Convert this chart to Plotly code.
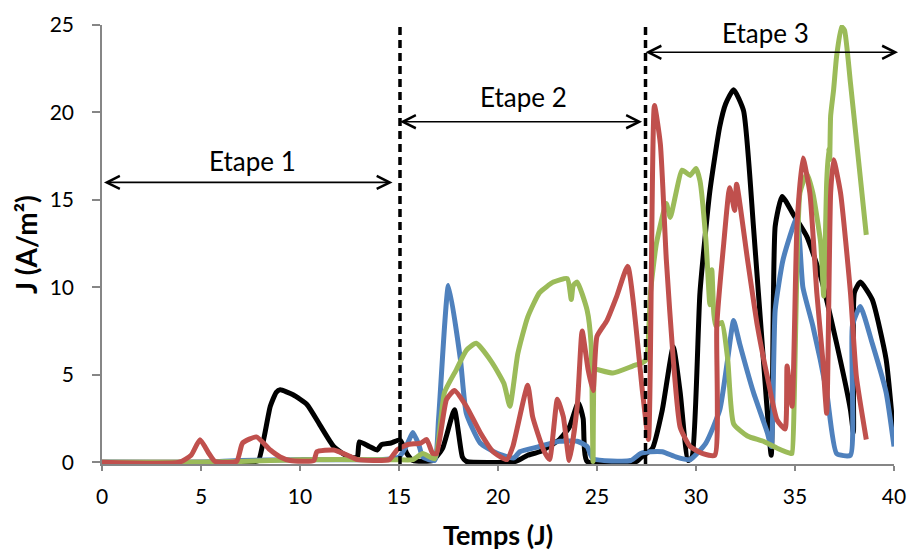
import plotly.graph_objects as go

# ---- data ----
black_x = [0, 2, 4, 6, 7.5, 7.9, 8.2, 8.5, 8.8, 9.0, 9.65, 10.35, 11.0, 11.7, 12.3, 12.7, 12.9, 13.0, 13.5, 13.9, 14.1, 14.6, 15.05,
           15.4, 15.7, 16.7, 17.2, 17.8, 18.2, 18.4, 20.9, 21.5, 22.1, 23.1, 23.6, 24.05, 24.3, 24.5, 27.0, 27.2, 27.8, 28.3,
           28.85, 29.2, 29.6, 29.8, 30.2, 30.7, 31.2, 31.5, 31.9, 32.4, 32.9, 33.4, 33.8, 34.0, 34.35, 34.9, 35.6, 36.3, 37.1,
           37.8, 37.95, 38.0, 38.3, 38.9, 39.6, 40.0]
black_y = [0, 0, 0, 0, 0, 0.1, 1.5, 3.2, 4.0, 4.14, 3.86, 3.3, 2.14, 0.9, 0.4, 0.26, 0.3, 1.17, 0.9, 0.7, 1.0, 1.1, 1.28,
           0.5, 0.1, 0.1, 0.8, 3.0, 0.3, 0.05, 0.05, 0.4, 0.6, 1.3, 2.0, 3.4, 2.5, 0.05, 0.05, 0.25, 0.8, 3.0,
           6.6, 4.0, 0.1, 0.3, 9.7, 15.5, 19.2, 20.5, 21.3, 20.1, 13.5, 5.9, 0.4, 13.5, 15.2, 14.2, 12.9, 10.6, 6.8,
           3.0, 1.7, 9.7, 10.3, 9.3, 5.9, 1.3]

blue_x = [0, 5, 7, 10, 14, 15.0, 15.4, 15.7, 16.0, 16.2, 16.8, 17.0, 17.5, 18.1, 18.4, 19.1, 19.9, 20.8, 21.1, 22.1, 23.1,
          24.0, 24.5, 24.8, 26.7, 27.2, 27.7, 28.3, 29.0, 29.7, 30.5, 31.2, 31.6, 31.9, 32.2, 32.9, 33.6, 33.8, 34.0,
          34.4, 35.1, 35.4, 35.9, 36.6, 37.1, 37.8, 37.9, 38.3, 38.9, 39.6, 40.0]
blue_y = [0, 0, 0.1, 0.15, 0.15, 0.3, 1.0, 1.7, 1.0, 0.3, 0.1, 2.5, 10.1, 5.9, 2.8, 1.1, 0.54, 0.25, 0.6, 0.9, 1.2,
          1.2, 0.9, 0.2, 0.1, 0.5, 0.6, 0.6, 0.3, 0.15, 1.1, 3.0, 5.9, 8.1, 6.8, 4.0, 1.7, 0.9, 8.7,
          11.6, 14.0, 10.0, 7.8, 4.0, 0.5, 0.4, 7.8, 8.9, 6.8, 4.0, 0.9]

green_x = [0, 5, 7, 10, 14, 14.9, 15.7, 16.2, 16.8, 17.3, 17.9, 18.4, 18.9, 19.7, 20.3, 20.6, 21.0, 21.5, 22.1, 22.8,
           23.5, 23.7, 23.8, 24.0, 24.5, 24.7, 24.8, 24.9, 25.0, 25.8, 26.8, 27.3, 27.5, 27.7, 28.0, 28.5, 28.7, 29.3,
           29.7, 30.0, 30.2, 30.5, 30.7, 30.8, 30.9, 31.0, 31.3, 31.6, 31.9, 32.6, 33.4, 34.1, 34.8, 34.85, 35.25,
           35.6, 35.9, 36.3, 36.45, 36.6, 36.7, 36.75, 36.8, 36.95, 37.1, 37.35, 37.5, 37.8, 38.15, 38.6]
green_y = [0, 0, 0.05, 0.15, 0.15, 0.15, 0.15, 0.5, 0.2, 4.0, 5.3, 6.4, 6.8, 5.7, 4.5, 3.2, 6.2, 8.3, 9.7, 10.3,
           10.5, 9.3, 10.1, 10.3, 8.7, 6.8, 0.05, 5.3, 5.3, 5.1, 5.5, 5.7, 5.9, 9.7, 12.5, 14.8, 14.0, 16.7,
           16.4, 16.8, 16.1, 12.7, 9.0, 11.0, 8.5, 7.8, 8.0, 5.9, 2.2, 1.5, 1.2, 0.8, 0.5, 0.5, 15.4,
           16.5, 15.4, 12.5, 9.5, 16.0, 18.0, 17.3, 19.8, 21.3, 23.2, 24.9, 24.7, 21.7, 17.9, 13.0]

red_x = [0, 3.9, 4.5, 4.95, 5.4, 5.7, 6.8, 7.1, 7.8, 8.5, 9.0, 9.5, 10.7, 10.85, 11.7, 12.4, 12.9, 14.5, 14.9, 15.4, 16.1,
         16.4, 16.7, 16.9, 17.4, 17.8, 18.4, 19.1, 19.75, 20.45, 20.75, 21.5, 21.75, 22.3, 22.6, 23.0, 23.3, 23.6, 24.0,
         24.25, 24.55, 24.8, 25.0, 25.5, 26.0, 26.55, 27.3, 27.6, 27.9, 28.2, 28.5, 28.85, 29.2, 29.7, 30.35, 30.95,
         31.05, 31.4, 31.7, 31.95, 32.05, 32.6, 33.1, 33.6, 34.1, 34.5, 34.6, 34.85, 35.1, 35.4, 35.75, 36.1, 36.4,
         36.6, 36.8, 36.95, 37.3, 37.8, 38.1, 38.6]
red_y = [0, 0, 0.4, 1.29, 0.5, 0.05, 0.05, 1.1, 1.45, 0.7, 0.3, 0.1, 0.1, 0.6, 0.7, 0.4, 0.15, 0.15, 0.7, 1.0, 1.1,
         1.3, 0.5, 0.5, 3.6, 4.1, 3.2, 1.7, 0.6, 0.15, 0.9, 4.4, 2.6, 0.7, 0.15, 3.6, 2.6, 0.1, 3.2,
         7.5, 5.3, 4.1, 7.2, 8.1, 9.5, 11.2, 4.0, 1.3, 20.4, 18.2, 11.6, 5.9, 2.0, 0.9, 0.5, 0.4,
         7.8, 12.5, 15.7, 14.4, 15.9, 11.6, 7.8, 4.9, 2.4, 1.9, 5.5, 3.2, 13.5, 17.4, 15.4, 9.7, 5.9,
         2.8, 15.4, 17.3, 15.4, 9.7, 4.9, 1.3]

stage_bounds = [15.05, 27.45]
stage_labels = ["Etape 1", "Etape 2", "Etape 3"]
x_ticks = [0, 5, 10, 15, 20, 25, 30, 35, 40]
y_ticks = [0, 5, 10, 15, 20, 25]

FONT = "Lato"

fig = go.Figure()
series = [(black_x, black_y, "#000000"), (blue_x, blue_y, "#4F81BD"),
          (green_x, green_y, "#9BBB59"), (red_x, red_y, "#C0504D")]
for xs, ys, col in series:
    fig.add_trace(go.Scatter(x=xs, y=ys, mode="lines",
                             line=dict(color=col, width=5, shape="spline", smoothing=0.5),
                             showlegend=False, hoverinfo="skip"))

# dashed stage separators
for b in stage_bounds:
    fig.add_shape(type="line", xref="x", yref="paper", x0=b, x1=b, y0=0, y1=1.007,
                  line=dict(color="black", width=3.5, dash="8px,5px"))

arrow_common = dict(text="", showarrow=True, arrowside="end+start", arrowhead=5, startarrowhead=5,
                    arrowsize=1.6, startarrowsize=1.6, arrowwidth=1.6, arrowcolor="black",
                    standoff=0, startstandoff=0)
# Etape 1 arrow
fig.add_annotation(x=0.1, y=16.0, ax=14.75, ay=16.0, axref="x", ayref="y", xref="x", yref="y", **arrow_common)
# Etape 2 arrow
fig.add_annotation(x=stage_bounds[0], y=19.47, ax=27.35, ay=19.47, axref="x", ayref="y", xref="x", yref="y", **arrow_common)
# Etape 3 arrow (extends beyond the axis end)
fig.add_annotation(x=stage_bounds[1], y=23.44, ax=254, ay=0, axref="pixel", ayref="pixel", xref="x", yref="y", **arrow_common)

label_pos = [(7.58, 17.34), (21.29, 21.0), (33.5, 24.66)]
for (lx, ly), t in zip(label_pos, stage_labels):
    fig.add_annotation(x=lx, y=ly, text=t, showarrow=False, xref="x", yref="y",
                       font=dict(family=FONT, size=26, color="black"), yanchor="middle", yshift=-2)

# axis titles
fig.add_annotation(text="<b>Temps (J)</b>", xref="paper", yref="paper", x=0.5, y=-0.2035,
                   showarrow=False, font=dict(family=FONT, size=27, color="black"), yanchor="bottom")
fig.add_annotation(text="<b>J (A/m²)</b>", xref="paper", yref="paper", x=-0.0966, y=0.5, textangle=-90,
                   showarrow=False, font=dict(family=FONT, size=28, color="black"), xanchor="center")

axis_common = dict(showgrid=False, zeroline=False, showline=True, linecolor="#868686", linewidth=1.5,
                   ticks="outside", tickcolor="#868686", tickwidth=1.5, automargin=False,
                   tickfont=dict(family=FONT, size=21, color="black"))
fig.update_xaxes(range=[0, 40], tickvals=x_ticks, ticklen=5, ticklabelstandoff=8, **axis_common)
fig.update_yaxes(range=[-0.1, 25], tickvals=y_ticks, ticklen=8, ticklabelstandoff=14, **axis_common)

fig.update_layout(template="none", width=911, height=552, margin=dict(l=102, r=17, t=25, b=88, autoexpand=False),
                  plot_bgcolor="white", paper_bgcolor="white", font=dict(family=FONT))

fig.write_html("out.html", config={"responsive": False, "displayModeBar": False},
               post_script="document.body.style.margin='0';document.body.style.overflow='hidden';")
